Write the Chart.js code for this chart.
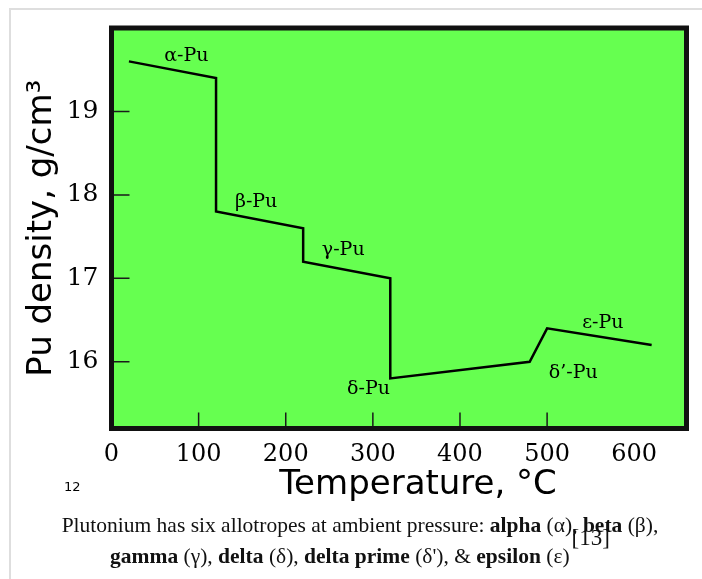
<!DOCTYPE html>
<html>
<head>
<meta charset="utf-8">
<script src="https://cdn.jsdelivr.net/npm/chart.js@4"></script>
<style>
  body { margin: 0; background: #fff; }
  #wrap { position: relative; width: 702px; height: 579px; overflow: hidden; }
  #frame { position: absolute; left: 9px; top: 8px; width: 700px; height: 580px;
           border-top: 2px solid #dedede; border-left: 2px solid #dedede; }
  #chart { position: absolute; left: 0; top: 0; }
  #xtitle { position: absolute; left: 218px; width: 400px; top: 465px; text-align: center;
            font: 34px "DejaVu Sans"; line-height: 34px; color: #000; }
  #num { position: absolute; left: 64px; top: 479px; font: 13px "DejaVu Sans"; color: #000; }
  #caption { position: absolute; left: 0; width: 720px; top: 510px; text-align: center;
             font: 21.5px "Liberation Serif"; line-height: 31px; color: #111; }
  #caption sup { font-size: 23px; line-height: 0; vertical-align: baseline; position: relative; top: -18px; margin-left: 2px; }
</style>
</head>
<body>
<div id="wrap">
  <div id="frame"></div>
  <canvas id="chart" width="702" height="579"></canvas>
  <div id="xtitle">Temperature, °C</div>
  <div id="num">12</div>
  <div id="caption">Plutonium has six allotropes at ambient pressure: <b>alpha</b> (α), <b>beta</b> (β),<br><b>gamma</b> (γ), <b>delta</b> (δ), <b>delta prime</b> (δ'), &amp; <b>epsilon</b> (ε)<sup>[13]</sup></div>
</div>
<script>
// temperature (°C) and density (g/cm³) along the curve
const temperature = [20, 120, 120, 220, 220, 320, 320, 480, 500, 620]
const density = [19.6, 19.4, 17.8, 17.6, 17.2, 17.0, 15.8, 16.0, 16.4, 16.2]

// phase labels and where they sit (data units)
const phaseNames = ['α-Pu', 'β-Pu', 'γ-Pu', 'δ-Pu', 'ε-Pu', 'δ’-Pu']
const phaseT = [86, 166, 266, 295, 564, 530]
const phaseRho = [19.61, 17.86, 17.28, 15.61, 16.41, 15.81]

const xTicks = [0, 100, 200, 300, 400, 500, 600]
const xTickMarks = [100, 200, 300, 400, 500]
const yTicks = [16, 17, 18, 19]

const plotDecor = {
  id: 'plotDecor',
  beforeDatasetsDraw(chart) {
    const {ctx, chartArea: a} = chart
    ctx.save()
    ctx.fillStyle = '#66ff50'
    ctx.fillRect(a.left, a.top, a.right - a.left, a.bottom - a.top)
    ctx.restore()
  },
  afterDatasetsDraw(chart) {
    const {ctx, chartArea: a, scales} = chart
    ctx.save()
    ctx.strokeStyle = '#1a1a1a'
    ctx.lineWidth = 1.5
    ctx.beginPath()
    yTicks.forEach(v => {
      const py = scales.y.getPixelForValue(v)
      ctx.moveTo(a.left, py); ctx.lineTo(a.left + 18, py)
    })
    xTickMarks.forEach(v => {
      const px = scales.x.getPixelForValue(v)
      ctx.moveTo(px, a.bottom); ctx.lineTo(px, a.bottom - 16)
    })
    ctx.stroke()
    ctx.lineWidth = 5
    ctx.strokeStyle = '#111'
    ctx.strokeRect(a.left, a.top, a.right - a.left, a.bottom - a.top)
    ctx.fillStyle = '#000'
    ctx.font = '19px "DejaVu Serif"'
    ctx.textAlign = 'center'
    ctx.textBaseline = 'alphabetic'
    phaseNames.forEach((n, i) => {
      ctx.fillText(n, scales.x.getPixelForValue(phaseT[i]), scales.y.getPixelForValue(phaseRho[i]))
    })
    ctx.restore()
  }
}

const ctx = document.getElementById('chart')
new Chart(ctx, {
  type: 'line',
  data: {
    datasets: [{
      data: temperature.map((t, i) => ({x: t, y: density[i]})),
      borderColor: '#000',
      borderWidth: 2.5,
      pointRadius: 0,
      tension: 0,
      fill: false
    }]
  },
  options: {
    responsive: false,
    animation: false,
    layout: { padding: { top: 26, right: 15.5, left: 0, bottom: 0 } },
    plugins: { legend: { display: false }, tooltip: { enabled: false } },
    scales: {
      x: {
        type: 'linear',
        min: 0, max: 660,
        afterFit: s => { s.height = 150.5 },
        afterBuildTicks: s => { s.ticks = xTicks.map(v => ({value: v})) },
        grid: { display: false, drawTicks: false },
        border: { display: false },
        ticks: { color: '#000', padding: 12, maxRotation: 0, autoSkip: false,
                 font: { family: 'DejaVu Serif', size: 24 } }
      },
      y: {
        type: 'linear',
        min: 15.2, max: 20,
        afterFit: s => { s.width = 111.5 },
        afterBuildTicks: s => { s.ticks = yTicks.map(v => ({value: v})) },
        grid: { display: false, drawTicks: false },
        border: { display: false },
        ticks: { color: '#000', padding: 13, font: { family: 'DejaVu Serif', size: 25 } },
        title: { display: true, text: 'Pu density, g/cm³', color: '#000',
                 padding: { top: 22 }, font: { family: 'DejaVu Sans', size: 34 } }
      }
    }
  },
  plugins: [plotDecor]
})
</script>
</body>
</html>
